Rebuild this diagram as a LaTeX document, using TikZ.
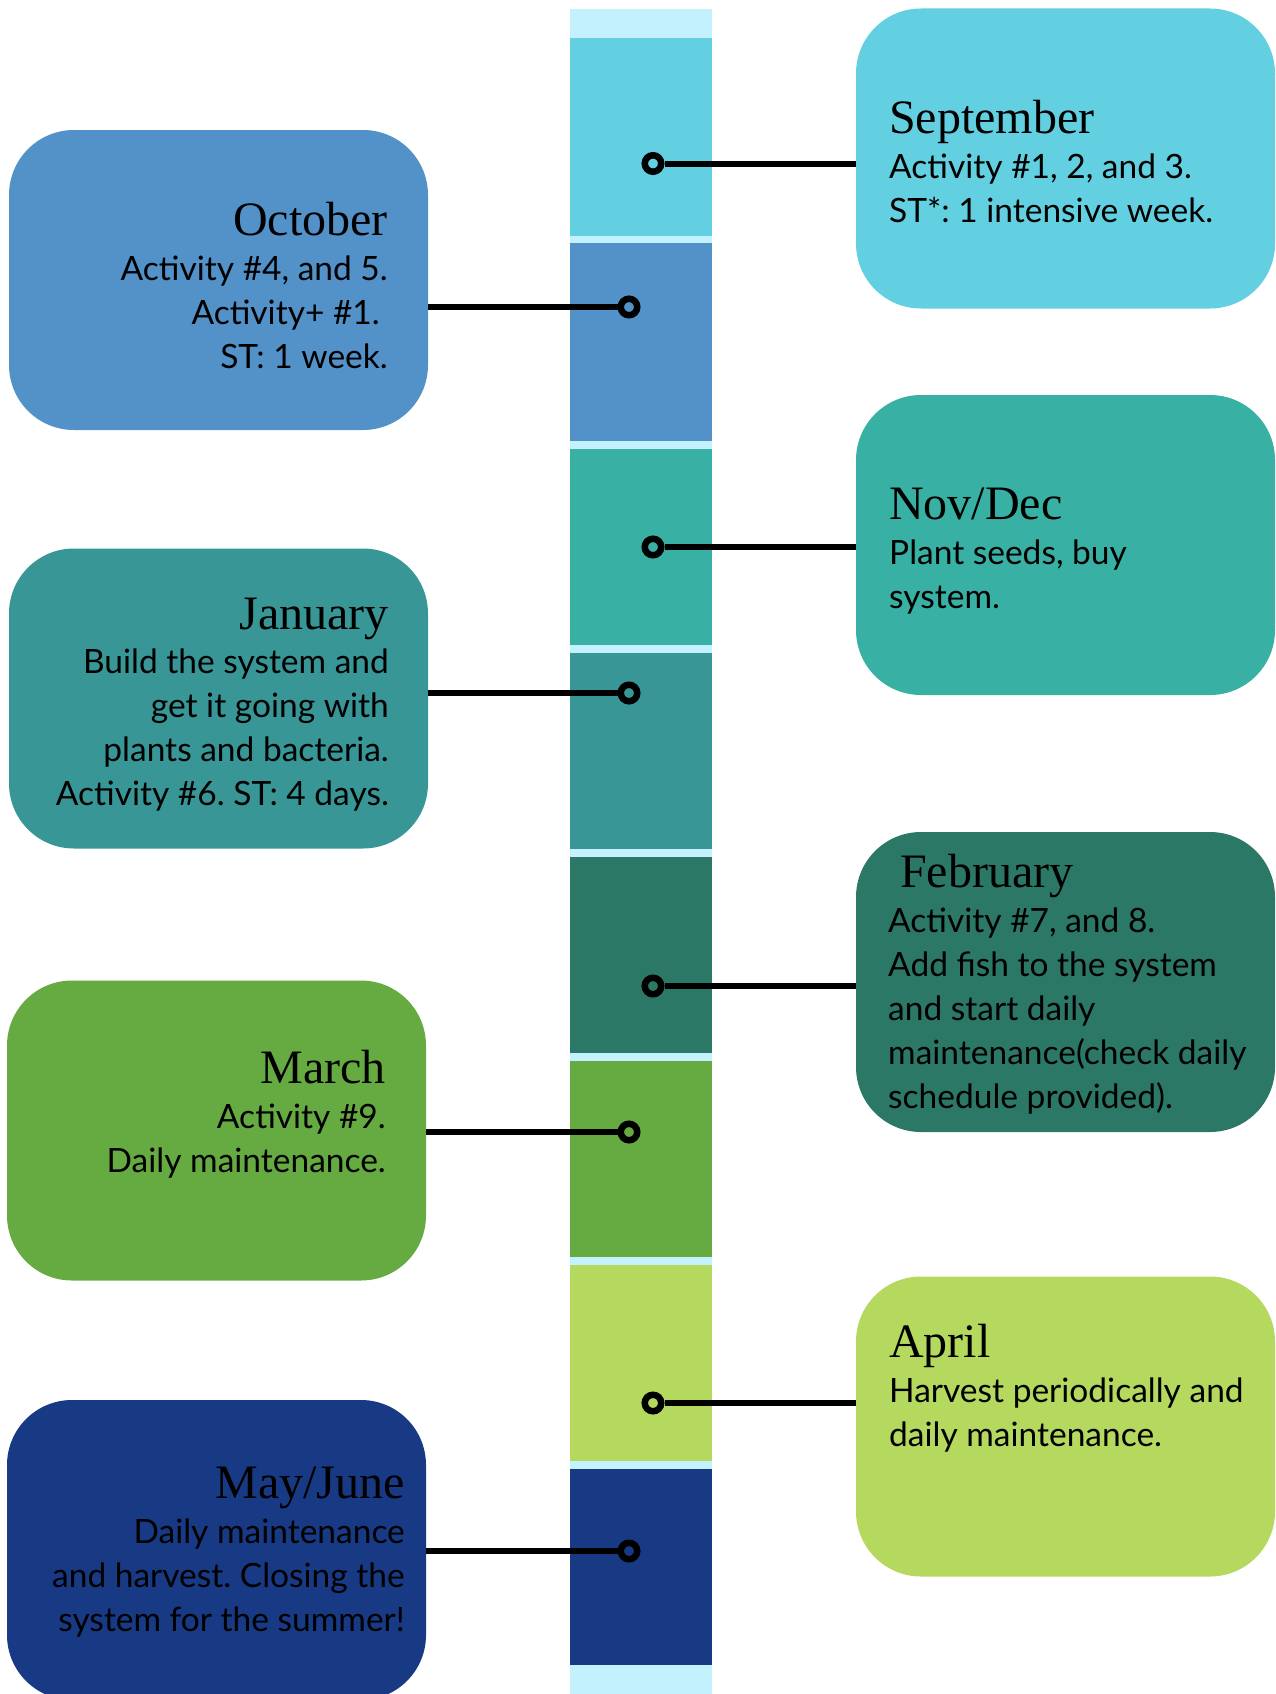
\documentclass[tikz,border=0pt]{standalone}
\usepackage{fontspec}
\newfontfamily\bodyfont{Lato}
\newfontfamily\titlefont{Liberation Serif}
\frenchspacing
\definecolor{cSep}{HTML}{62D0E0}
\definecolor{cOct}{HTML}{5391C9}
\definecolor{cNov}{HTML}{38B0A3}
\definecolor{cJan}{HTML}{399697}
\definecolor{cFeb}{HTML}{2C7866}
\definecolor{cMar}{HTML}{66AA42}
\definecolor{cApr}{HTML}{B5D85F}
\definecolor{cMay}{HTML}{183A85}
\definecolor{cLight}{HTML}{C3F1FD}
\tikzset{
  box/.style={rectangle, rounded corners=65pt, minimum width=419pt, minimum height=300pt, inner sep=0pt, draw=none},
  ttl/.style={font=\titlefont\fontsize{48}{56}\selectfont, inner sep=0pt},
  bodytext/.style={font=\bodyfont\fontsize{33.5}{44}\selectfont, inner sep=0pt},
  dotc/.style={circle, draw=black, line width=6.5pt, minimum size=16.5pt, inner sep=0pt},
  conn/.style={line width=6pt},
}
\begin{document}
\begin{tikzpicture}[x=1pt,y=-1pt]
\useasboundingbox (0,0) rectangle (1276,1694);
\clip (0,0) rectangle (1276,1694);
% timeline bar
\fill[cLight] (570,9) rectangle (712,1694);
\fill[cSep] (570,38) rectangle (712,236);
\fill[cOct] (570,243) rectangle (712,441);
\fill[cNov] (570,449) rectangle (712,645);
\fill[cJan] (570,653) rectangle (712,849);
\fill[cFeb] (570,857) rectangle (712,1053);
\fill[cMar] (570,1061) rectangle (712,1257);
\fill[cApr] (570,1265) rectangle (712,1461);
\fill[cMay] (570,1469) rectangle (712,1665);
% boxes
\node[box, fill=cSep] (bsep) at (1065.5,158.5) {};
\node[box, fill=cNov] (bnov) at (1065.5,545) {};
\node[box, fill=cFeb] (bfeb) at (1065.5,982) {};
\node[box, fill=cApr] (bapr) at (1065.5,1426.5) {};
\node[box, fill=cOct] (boct) at (218.5,280) {};
\node[box, fill=cJan] (bjan) at (218.5,698.5) {};
\node[box, fill=cMar] (bmar) at (216.5,1130.5) {};
\node[box, fill=cMay] (bmay) at (216.5,1550) {};
% dots
\node[dotc] (dsep) at (653,163.5) {};
\node[dotc] (doct) at (629,307) {};
\node[dotc] (dnov) at (653,547) {};
\node[dotc] (djan) at (629,693) {};
\node[dotc] (dfeb) at (653,986) {};
\node[dotc] (dmar) at (629,1132) {};
\node[dotc] (dapr) at (653,1403) {};
\node[dotc] (dmay) at (629,1551) {};
% connectors
\draw[conn] (dsep) -- (dsep -| bsep.west);
\draw[conn] (dnov) -- (dnov -| bnov.west);
\draw[conn] (dfeb) -- (dfeb -| bfeb.west);
\draw[conn] (dapr) -- (dapr -| bapr.west);
\draw[conn] (doct) -- (doct -| boct.east);
\draw[conn] (djan) -- (djan -| bjan.east);
\draw[conn] (dmar) -- (dmar -| bmar.east);
\draw[conn] (dmay) -- (dmay -| bmay.east);
% texts right (body anchored at baseline of its last line)
\node[ttl, anchor=base west] (tsep) at (889,133) {September};
\node[bodytext, anchor=base west, align=left] (xsep) at (889,222) {Activity \#1, 2, and 3.\\ST*: 1 intensive week.};
\node[ttl, anchor=base west] (tnov) at (889,519) {Nov/Dec};
\node[bodytext, anchor=base west, align=left] (xnov) at (889,608) {Plant seeds, buy\\system.};
\node[ttl, anchor=base west] (tfeb) at (900,887) {February};
\node[bodytext, anchor=base west, align=left] (xfeb) at (888,1108) {Activity \#7, and 8.\\Add fish to the system\\and start daily\\maintenance(check daily\\schedule provided).};
\node[ttl, anchor=base west] (tapr) at (889,1357) {April};
\node[bodytext, anchor=base west, align=left] (xapr) at (889,1446) {Harvest periodically and\\daily maintenance.};
% texts left
\node[ttl, anchor=base east] (toct) at (388,235) {October};
\node[bodytext, anchor=base east, align=right] (xoct) at (388,368) {Activity \#4, and 5.\\Activity+ \#1.\hbox to 8pt{}\\ST: 1 week.};
\node[ttl, anchor=base east] (tjan) at (389,629) {January};
\node[bodytext, anchor=base east, align=right] (xjan) at (389,805) {Build the system and\\get it going with\\plants and bacteria.\\Activity \#6. ST: 4 days.};
\node[ttl, anchor=base east] (tmar) at (386,1083) {March};
\node[bodytext, anchor=base east, align=right] (xmar) at (386,1172) {Activity \#9.\\Daily maintenance.};
\node[ttl, anchor=base east] (tmay) at (405,1498) {May/June};
\node[bodytext, anchor=base east, align=right] (xmay) at (405,1631) {Daily maintenance\\and harvest. Closing the\\system for the summer!};
\end{tikzpicture}
\end{document}
